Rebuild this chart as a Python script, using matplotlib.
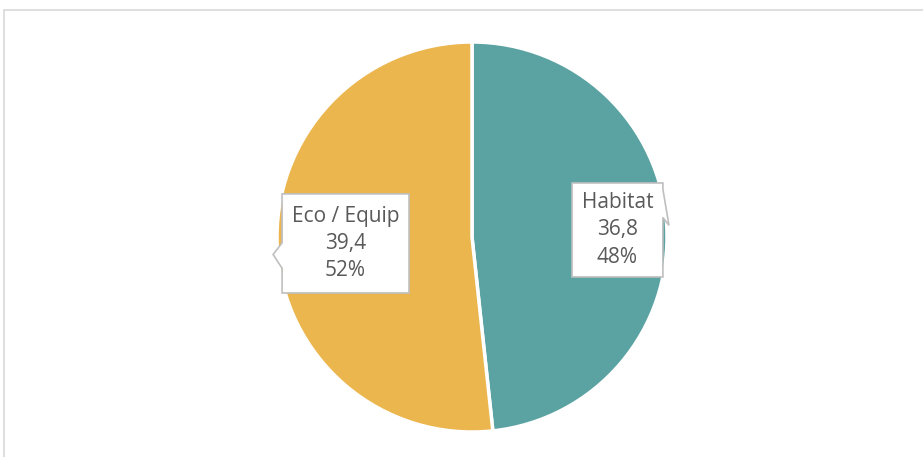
import matplotlib.pyplot as plt
from matplotlib.patches import Rectangle, Polygon

labels = ['Habitat', 'Eco / Equip']
values = [36.8, 39.4]
colors = ['#5BA3A2', '#EBB64E']

plt.rcParams['font.family'] = ['Open Sans', 'DejaVu Sans']

fig = plt.figure(figsize=(9.23, 4.57), dpi=100)
W, H = 923, 457

# light gray chart frame
fig.patches.append(Rectangle((4 / W, -0.1), 1.1, (H - 10) / H + 0.1,
                             transform=fig.transFigure, fill=False,
                             edgecolor='#D9D9D9', linewidth=1.2))

cx, cy, r = 472, 237, 195
ax = fig.add_axes([(cx - r) / W, (H - cy - r) / H, 2 * r / W, 2 * r / H])
ax.pie(values, colors=colors, startangle=90, counterclock=False, radius=1,
       wedgeprops=dict(edgecolor='white', linewidth=2.5))
ax.set_xlim(-1, 1)
ax.set_ylim(-1, 1)
ax.set_aspect('equal')
ax.axis('off')

total = sum(values)
# callout boxes: (x0, x1, y0, y1), pointer side, pointer base y's, tip
boxes = [
    dict(box=(0.513, 0.979, -0.205, 0.277), side='right',
         base=(0.245, 0.10), tip=(1.01, 0.06)),
    dict(box=(-0.974, -0.323, -0.287, 0.221), side='left',
         base=(-0.03, -0.16), tip=(-1.02, -0.09)),
]
for lab, v, b in zip(labels, values, boxes):
    x0, x1, y0, y1 = b['box']
    if b['side'] == 'right':
        pts = [(x0, y1), (x1, y1), (x1, b['base'][0]), b['tip'],
               (x1, b['base'][1]), (x1, y0), (x0, y0)]
    else:
        pts = [(x0, y1), (x1, y1), (x1, y0), (x0, y0),
               (x0, b['base'][1]), b['tip'], (x0, b['base'][0])]
    ax.add_patch(Polygon(pts, closed=True, facecolor='white',
                         edgecolor='#BFBFBF', linewidth=1.2, zorder=3,
                         clip_on=False))
    pct = round(v / total * 100)
    txt = f"{lab}\n{str(v).replace('.', ',')}\n{pct}%"
    ax.text((x0 + x1) / 2, (y0 + y1) / 2, txt, ha='center', va='center',
            fontsize=15, color='#595959', linespacing=1.4, zorder=4)

fig.savefig('out.png', dpi=100)
